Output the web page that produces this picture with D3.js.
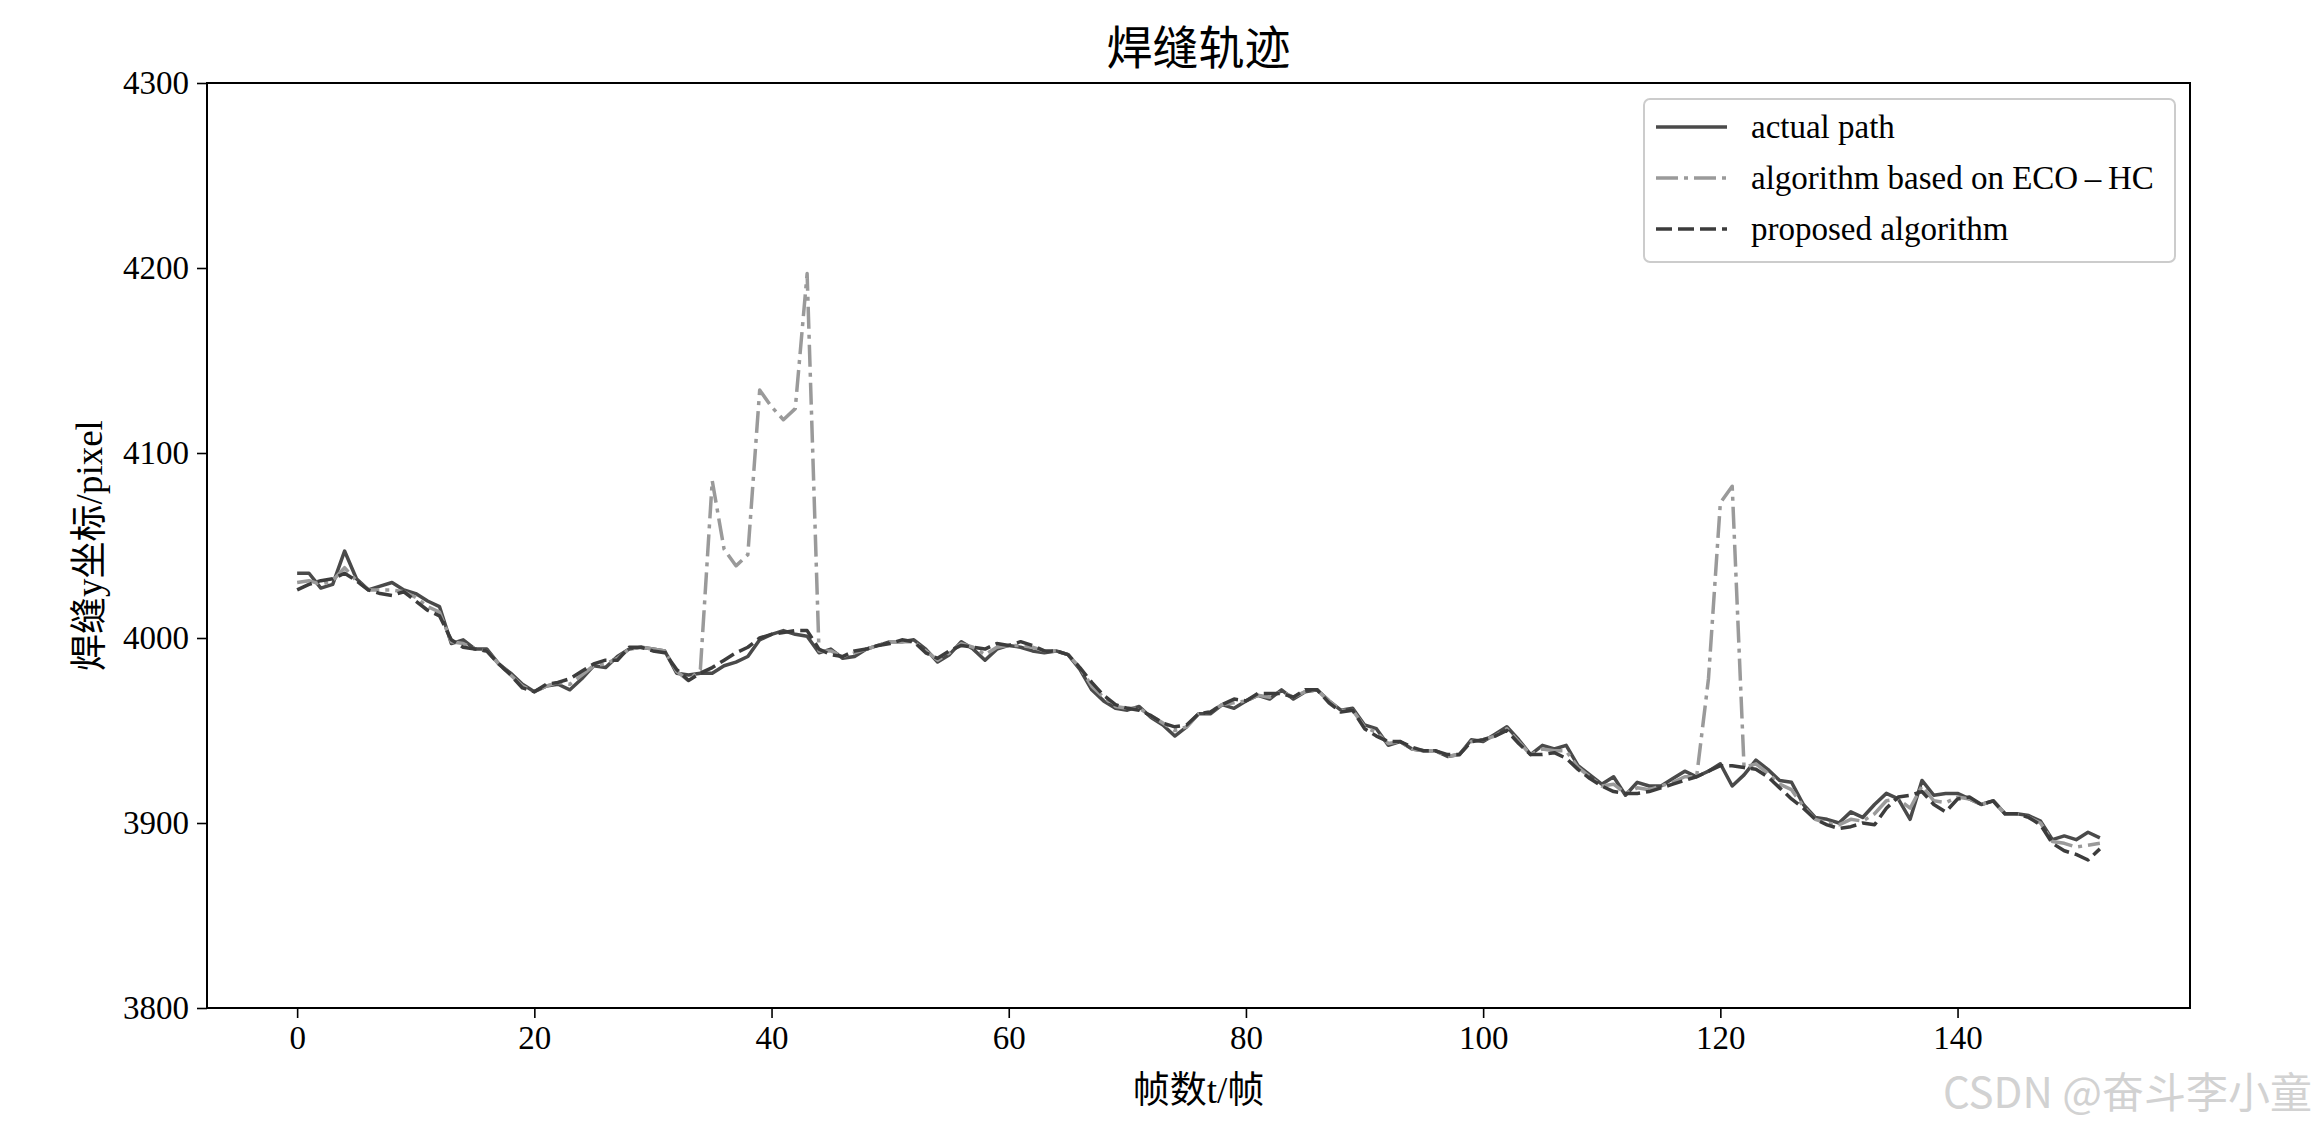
<!DOCTYPE html>
<html>
<head>
<meta charset="utf-8">
<script src="https://cdn.jsdelivr.net/npm/d3@7"></script>
<style>
  html, body { margin: 0; padding: 0; background: #fff; }
  svg { display: block; }
</style>
</head>
<body>
<div id="chart"></div>
<script>
// ---- data ----
const frames = d3.range(0, 153);

const actualPath = [
  4035, 4035, 4027, 4029, 4047, 4032, 4026, 4028, 4030, 4026,
  4024, 4020, 4017, 3997, 3999, 3994, 3994, 3986, 3981, 3975,
  3971, 3974, 3975, 3972, 3978, 3985, 3984, 3990, 3994, 3995,
  3994, 3993, 3981, 3980, 3981, 3981, 3985, 3987, 3990, 3999,
  4002, 4004, 4002, 4001, 3992, 3994, 3989, 3990, 3994, 3996,
  3998, 3998, 3999, 3994, 3987, 3991, 3998, 3994, 3988, 3994,
  3996, 3995, 3993, 3992, 3993, 3991, 3983, 3972, 3966, 3962,
  3961, 3963, 3957, 3953, 3947, 3952, 3959, 3959, 3964, 3962,
  3966, 3969, 3967, 3972, 3967, 3971, 3972, 3966, 3961, 3962,
  3953, 3951, 3942, 3944, 3940, 3939, 3939, 3936, 3937, 3945,
  3944, 3948, 3952, 3945, 3937, 3942, 3940, 3942, 3931, 3926,
  3921, 3925, 3915, 3922, 3920, 3920, 3924, 3928, 3925, 3928,
  3932, 3920, 3926, 3934, 3929, 3923, 3922, 3910, 3903, 3902,
  3900, 3906, 3903, 3910, 3916, 3913, 3902, 3923, 3915, 3916,
  3916, 3913, 3910, 3912, 3905, 3905, 3904, 3901, 3891, 3893,
  3891, 3895, 3892
];

const ecoHC = [
  4030, 4031, 4029, 4031, 4038, 4031, 4026, 4026, 4026, 4025,
  4022, 4017, 4014, 3998, 3997, 3994, 3993, 3986, 3980, 3974,
  3971, 3974, 3976, 3975, 3980, 3985, 3986, 3989, 3994, 3995,
  3994, 3993, 3982, 3977, 3983, 4085, 4048, 4039, 4045, 4134,
  4125, 4118, 4124, 4197, 3993, 3993, 3990, 3992, 3994, 3996,
  3998, 3998, 3998, 3993, 3988, 3992, 3997, 3995, 3991, 3995,
  3996, 3996, 3995, 3993, 3993, 3991, 3984, 3974, 3968, 3963,
  3962, 3962, 3958, 3954, 3950, 3952, 3959, 3960, 3964, 3965,
  3966, 3969, 3968, 3971, 3968, 3971, 3972, 3966, 3961, 3961,
  3952, 3949, 3943, 3944, 3940, 3939, 3939, 3936, 3937, 3944,
  3945, 3947, 3951, 3944, 3937, 3940, 3939, 3939, 3930, 3925,
  3920, 3921, 3916, 3919, 3918, 3920, 3922, 3925, 3925, 3978,
  4073, 4082, 3930, 3932, 3927, 3921, 3918, 3909, 3902, 3900,
  3899, 3902, 3901, 3905, 3912, 3913, 3908, 3920, 3912, 3911,
  3914, 3913, 3910, 3912, 3905, 3905, 3903, 3900, 3890, 3889,
  3887, 3888, 3889
];

const proposed = [
  4026, 4029, 4031, 4032, 4035, 4031, 4026, 4024, 4023, 4025,
  4020, 4015, 4012, 3999, 3995, 3994, 3993, 3986, 3980, 3973,
  3971, 3975, 3976, 3978, 3982, 3986, 3988, 3988, 3995, 3995,
  3993, 3992, 3983, 3977, 3981, 3984, 3988, 3992, 3995, 4000,
  4002, 4003, 4004, 4004, 3994, 3991, 3990, 3993, 3994, 3996,
  3997, 3999, 3998, 3992, 3989, 3993, 3996, 3995, 3994, 3997,
  3996, 3998, 3996, 3993, 3993, 3991, 3984, 3976, 3969, 3964,
  3962, 3961, 3958, 3954, 3952, 3953, 3959, 3960, 3964, 3967,
  3966, 3970, 3970, 3970, 3968, 3972, 3972, 3965, 3960, 3961,
  3951, 3947, 3944, 3944, 3941, 3939, 3939, 3937, 3937, 3944,
  3945, 3947, 3950, 3943, 3937, 3937, 3938, 3935, 3929, 3924,
  3920, 3917, 3916, 3916, 3917, 3919, 3921, 3923, 3925, 3928,
  3931, 3931, 3930, 3929, 3925, 3919, 3913, 3908, 3902, 3899,
  3897, 3898, 3900, 3899, 3908, 3914, 3915, 3917, 3910, 3906,
  3913, 3914, 3910, 3912, 3905, 3905, 3903, 3899, 3889, 3885,
  3883, 3880, 3886
];

const xTicks = [0, 20, 40, 60, 80, 100, 120, 140];
const yTicks = [3800, 3900, 4000, 4100, 4200, 4300];

const seriesNames = ["actual path", "algorithm based on ECO\u2009\u2013\u2009HC", "proposed algorithm"];
const chartTitle = "焊缝轨迹";
const xLabel = "帧数t/帧";
const yLabel = "焊缝y坐标/pixel";
const watermark = "CSDN @奋斗李小童";

// ---- layout ----
const W = 2320, H = 1122;
const plot = { left: 207, right: 2190, top: 83, bottom: 1008 };
const serif = "'Liberation Serif', 'Times New Roman', 'Noto Sans CJK SC', serif";
const cjk = "'Liberation Serif', 'Noto Sans CJK SC', sans-serif";

const svg = d3.select("#chart").append("svg")
  .attr("width", W).attr("height", H);

svg.append("rect").attr("width", W).attr("height", H).attr("fill", "#fff");

const x = d3.scaleLinear().domain([-7.6, 159.6]).range([plot.left, plot.right]);
const y = d3.scaleLinear().domain([3800, 4300]).range([plot.bottom, plot.top]);

// lines
const styles = [
  { data: actualPath, color: "#4a4a4a", dash: null },
  { data: ecoHC, color: "#9a9a9a", dash: "22,6,4,6" },
  { data: proposed, color: "#3c3c3c", dash: "16,6" }
];

const line = d3.line().x((d, i) => x(frames[i])).y(d => y(d));

svg.append("clipPath").attr("id", "clip")
  .append("rect").attr("x", plot.left).attr("y", plot.top)
  .attr("width", plot.right - plot.left).attr("height", plot.bottom - plot.top);

const g = svg.append("g").attr("clip-path", "url(#clip)");
styles.forEach(s => {
  g.append("path")
    .attr("d", line(s.data))
    .attr("fill", "none")
    .attr("stroke", s.color)
    .attr("stroke-width", 3.5)
    .attr("stroke-linejoin", "round")
    .attr("stroke-dasharray", s.dash);
});

// axes
const xAxis = d3.axisBottom(x).tickValues(xTicks).tickSize(10).tickPadding(8).tickFormat(d3.format("d"));
const yAxis = d3.axisLeft(y).tickValues(yTicks).tickSize(10).tickPadding(8).tickFormat(d3.format("d"));

const gx = svg.append("g").attr("transform", `translate(0,${plot.bottom})`).call(xAxis);
const gy = svg.append("g").attr("transform", `translate(${plot.left},0)`).call(yAxis);
[gx, gy].forEach(a => {
  a.select(".domain").remove();
  a.selectAll(".tick line").attr("stroke", "#000").attr("stroke-width", 1.6);
  a.selectAll(".tick text").attr("fill", "#000")
    .style("font-family", serif).style("font-size", "33px");
});

// frame
svg.append("rect")
  .attr("x", plot.left).attr("y", plot.top)
  .attr("width", plot.right - plot.left).attr("height", plot.bottom - plot.top)
  .attr("fill", "none").attr("stroke", "#000").attr("stroke-width", 2);

// title & labels
svg.append("text").attr("x", (plot.left + plot.right) / 2).attr("y", 64)
  .attr("text-anchor", "middle")
  .style("font-family", cjk).style("font-size", "46px").attr("fill", "#000")
  .text(chartTitle);

svg.append("text").attr("x", (plot.left + plot.right) / 2).attr("y", 1103)
  .attr("text-anchor", "middle")
  .style("font-family", cjk).style("font-size", "37px").attr("fill", "#000")
  .text(xLabel);

svg.append("text")
  .attr("transform", `translate(102,${(plot.top + plot.bottom) / 2}) rotate(-90)`)
  .attr("text-anchor", "middle")
  .style("font-family", cjk).style("font-size", "37px").attr("fill", "#000")
  .text(yLabel);

// legend
const lg = svg.append("g");
lg.append("rect").attr("x", 1644).attr("y", 99).attr("width", 531).attr("height", 163)
  .attr("rx", 6).attr("fill", "#fff").attr("fill-opacity", 0.85)
  .attr("stroke", "#cccccc").attr("stroke-width", 2);
seriesNames.forEach((name, i) => {
  const yy = 127 + i * 51;
  lg.append("line").attr("x1", 1656).attr("x2", 1727).attr("y1", yy).attr("y2", yy)
    .attr("stroke", styles[i].color).attr("stroke-width", 3.5)
    .attr("stroke-dasharray", styles[i].dash);
  lg.append("text").attr("x", 1751).attr("y", yy + 11)
    .style("font-family", serif).style("font-size", "33px").attr("fill", "#000")
    .text(name);
});

// watermark
svg.append("text").attr("x", 2312).attr("y", 1108).attr("text-anchor", "end")
  .style("font-family", "'Noto Sans CJK SC', sans-serif").style("font-size", "42px")
  .attr("fill", "#d2d2d2")
  .text(watermark);
</script>
</body>
</html>
